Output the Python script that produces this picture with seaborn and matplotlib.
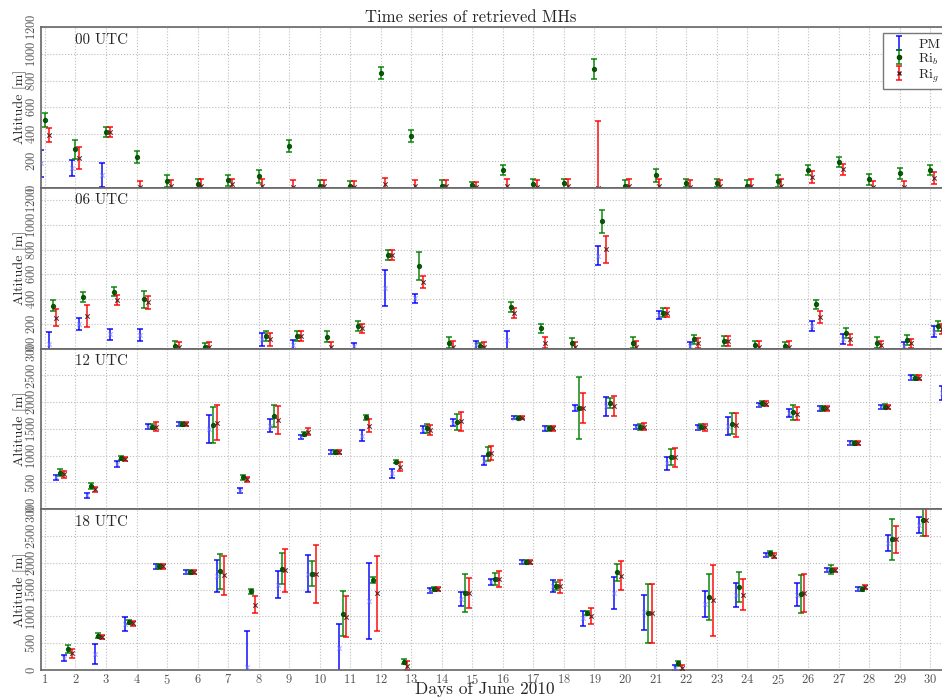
import numpy as np
import pandas as pd
import matplotlib
matplotlib.use("Agg")
import matplotlib.pyplot as plt
import seaborn as sns
from matplotlib.lines import Line2D

N = np.nan
days = list(range(1, 31))
hours = ["00", "06", "12", "18"]
series_names = ["PM", "Ri$_b$", "Ri$_g$"]
day_ticks = list(range(1, 31))

# ---------------- 00 UTC ----------------
pm_00 = [182, 145, 95, N, N, N, N, N, N, N, N, N, N, N, N, N, N, N, N, N, N, N, N, N, N, N, N, N, N, N]
pm_00_err = [100, 60, 90, N, N, N, N, N, N, N, N, N, N, N, N, N, N, N, N, N, N, N, N, N, N, N, N, N, N, N]
rib_00 = [507, 287, 417, 232, 50, 30, 55, 87, 312, 10, 10, 855, 387, 10, 20, 132, 30, 32, 887, 10, 92, 32, 32, 10, 50, 132, 192, 62, 107, 132]
rib_00_err = [53, 72, 35, 44, 45, 35, 42, 48, 42, 45, 40, 47, 45, 45, 22, 39, 35, 35, 72, 50, 47, 30, 30, 50, 45, 39, 38, 42, 42, 39]
rig_00 = [392, 225, 417, 5, 10, 10, 30, 10, 5, 10, 5, 30, 10, 10, 5, 10, 5, 10, 0, 10, 10, 5, 10, 10, 10, 82, 137, 5, 5, 75]
rig_00_err = [52, 82, 35, 45, 47, 52, 35, 52, 50, 47, 45, 45, 47, 45, 37, 52, 52, 52, 495, 52, 57, 52, 45, 52, 52, 44, 40, 45, 45, 44]

# ---------------- 06 UTC ----------------
pm_06 = [40, 195, 114, 108, N, N, N, 73, 32, N, 20, 487, 405, N, 25, 68, N, N, 751, N, 270, 20, N, N, N, 181, 76, N, 20, 135]
pm_06_err = [95, 48, 43, 47, N, N, N, 55, 40, N, 25, 146, 38, N, 35, 72, N, N, 78, N, 35, 30, N, N, N, 43, 43, N, 30, 46]
rib_06 = [346, 419, 460, 397, 22, 14, N, 103, 103, 95, 184, 757, 668, 46, 20, 332, 162, 41, 1027, 46, 289, 73, 62, 27, 20, 357, 127, 46, 68, 184]
rib_06_err = [45, 40, 38, 68, 37, 30, N, 40, 40, 46, 40, 40, 111, 44, 25, 40, 37, 43, 95, 44, 37, 40, 40, 30, 30, 38, 41, 44, 38, 40]
rig_06 = [249, 262, 392, 373, 10, 14, N, 73, 103, 10, 162, 757, 535, 10, 15, 289, 46, 10, 803, 10, 289, 41, 62, 10, 10, 257, 73, 25, 41, 157]
rig_06_err = [70, 89, 38, 54, 45, 35, N, 55, 40, 40, 37, 40, 48, 50, 35, 40, 44, 45, 110, 50, 37, 40, 40, 50, 50, 47, 43, 35, 38, 40]

# ---------------- 12 UTC ----------------
pm_12 = [594, 262, 844, 1544, 1600, 1500, 344, 1562, 1356, 1075, 1375, 669, 1487, 1619, 906, 1712, 1512, 1887, 1919, 1537, 856, 1525, 1556, 1950, 1794, 1881, 1231, 1906, 2456, 2169]
pm_12_err = [53, 50, 50, 47, 37, 268, 44, 125, 38, 37, 103, 85, 68, 62, 85, 31, 43, 50, 181, 40, 115, 43, 172, 40, 78, 44, 41, 44, 41, 137]
rib_12 = [681, 437, 962, 1544, 1600, 1569, 600, 1744, 1400, 1075, 1719, 887, 1512, 1625, 1025, 1712, 1512, 1887, 1981, 1537, 981, 1544, 1600, 1975, 1806, 1881, 1231, 1912, 2456, N]
rib_12_err = [69, 53, 35, 55, 37, 334, 47, 203, 40, 37, 46, 31, 81, 147, 131, 31, 43, 575, 97, 53, 147, 50, 194, 40, 131, 44, 41, 44, 41, N]
rig_12 = [650, 369, 944, 1544, 1600, 1619, 556, 1662, 1450, 1075, 1562, 794, 1481, 1644, 1044, 1712, 1512, 1887, 1919, 1537, 969, 1531, 1569, 1969, 1787, 1881, 1231, 1906, 2456, N]
rig_12_err = [66, 38, 38, 88, 37, 334, 47, 265, 62, 37, 119, 81, 100, 175, 131, 31, 43, 281, 187, 65, 171, 69, 225, 47, 118, 44, 41, 44, 41, N]

# ---------------- 18 UTC ----------------
pm_18 = [219, 294, 862, 1937, 1837, 1762, 60, 1594, 1794, 406, 1294, N, 1481, 1325, 1637, 2012, 1562, 969, 1437, 1075, 44, 1231, 1394, 2144, 1406, 1862, 1519, 2375, 2706, N]
pm_18_err = [56, 184, 125, 47, 37, 297, 670, 247, 347, 450, 712, N, 41, 134, 56, 40, 110, 141, 306, 334, 50, 243, 225, 40, 218, 40, 35, 150, 143, N]
rib_18 = [394, 644, 894, 1937, 1837, 1844, 1469, 1894, 1800, 1050, 1675, 156, 1512, 1437, 1700, 2012, 1569, 1062, 1825, 1062, 125, 1362, 1550, 2175, 1419, 1875, 1519, 2437, 2794, N]
rib_18_err = [78, 47, 37, 47, 37, 328, 44, 281, 237, 422, 53, 47, 35, 350, 110, 40, 78, 41, 162, 550, 50, 422, 272, 47, 353, 84, 35, 390, 297, N]
rig_18 = [312, 612, 875, 1937, 1837, 1769, 1219, 1862, 1794, 994, 1437, 81, 1512, 1437, 1700, 2012, 1562, 1000, 1762, 1062, 44, 1300, 1406, 2137, 1437, 1862, 1544, 2437, 2794, N]
rig_18_err = [87, 40, 47, 47, 37, 365, 160, 397, 547, 385, 700, 85, 40, 282, 153, 40, 116, 150, 275, 550, 50, 662, 290, 40, 360, 40, 35, 259, 297, N]

values = {
    "00": [(pm_00, pm_00_err), (rib_00, rib_00_err), (rig_00, rig_00_err)],
    "06": [(pm_06, pm_06_err), (rib_06, rib_06_err), (rig_06, rig_06_err)],
    "12": [(pm_12, pm_12_err), (rib_12, rib_12_err), (rig_12, rig_12_err)],
    "18": [(pm_18, pm_18_err), (rib_18, rib_18_err), (rig_18, rig_18_err)],
}
ylims = {"00": 1200, "06": 1300, "12": 3000, "18": 3000}
yticks = {"00": [0, 200, 400, 600, 800, 1000, 1200],
          "06": [0, 200, 400, 600, 800, 1000, 1200],
          "12": [0, 500, 1000, 1500, 2000, 2500, 3000],
          "18": [0, 500, 1000, 1500, 2000, 2500, 3000]}

offsets = [-0.125, 0.0, 0.125]
bar_colors = ["#0000ff", "#008000", "#ff0000"]
mk_colors = ["#7777ff", "#004d00", "#4d1a1a"]
mk_shapes = ["x", "o", "x"]
mk_sizes = [10, 9, 10]

rows = []
for h in hours:
    for si, (vals, errs) in enumerate(values[h]):
        for d, v, e in zip(days, vals, errs):
            rows.append({"hour": h, "series": series_names[si], "day": d,
                         "x": d + int(h) / 24.0 + offsets[si], "value": v, "err": e})
df = pd.DataFrame(rows)

sns.set_style("whitegrid")
plt.rcParams["font.family"] = ["cmr10", "DejaVu Serif"]
plt.rcParams["mathtext.fontset"] = "cm"
plt.rcParams["axes.formatter.use_mathtext"] = True
plt.rcParams["axes.unicode_minus"] = False

fig = plt.figure(figsize=(9.42, 6.97), dpi=100)
axes = fig.subplots(4, 1, sharex=True, gridspec_kw=dict(hspace=0))
fig.subplots_adjust(left=0.0435, right=1.02, top=0.9613, bottom=0.0387)

legend_handles = []
for ai, (ax, h) in enumerate(zip(axes, hours)):
    sub = df[df["hour"] == h]
    for si, name in enumerate(series_names):
        s = sub[sub["series"] == name]
        cont = ax.errorbar(s["x"], s["value"], yerr=s["err"], fmt="none",
                           ecolor=bar_colors[si], elinewidth=1.3, capsize=2.3,
                           capthick=1.3, alpha=0.8, zorder=2)
        sns.scatterplot(data=s, x="x", y="value", color=mk_colors[si],
                        marker=mk_shapes[si], s=mk_sizes[si], linewidth=0.8,
                        edgecolor=mk_colors[si] if mk_shapes[si] == "o" else None,
                        alpha=0.9 if si else 0.6, legend=False, ax=ax, zorder=3)
        if ai == 0:
            mk = Line2D([], [], ls="none", marker=mk_shapes[si] if si else None,
                        markersize=3, color=mk_colors[si])
            legend_handles.append((cont, mk))
    ax.set_xlim(0.87, 31)
    ax.set_ylim(0, ylims[h])
    ax.set_yticks(yticks[h])
    ax.set_xticks(day_ticks)
    ax.grid(True, ls=":", color="#bdbdbd", lw=0.8)
    for sp in ax.spines.values():
        sp.set_color("#666666")
        sp.set_linewidth(1.2)
    ax.tick_params(axis="y", labelrotation=90, labelsize=9, labelcolor="#555555",
                   direction="in", length=3, color="#666666", pad=2)
    for lab in ax.get_yticklabels():
        lab.set_va("center")
    ax.tick_params(axis="x", labelsize=9, labelcolor="#555555", direction="in",
                   length=3, color="#666666", pad=2)
    ax.set_ylabel("Altitude [m]", fontsize=10, va="center")
    ax.yaxis.set_label_coords(-0.023, 0.5)
    ax.set_xlabel("")
    ax.text(0.037, 0.92, f"{h} UTC", transform=ax.transAxes, fontsize=10.8,
            ha="left", va="center")

axes[-1].set_xlabel("Days of June 2010", fontsize=12.5, va="center")
axes[-1].xaxis.set_label_coords(0.483, -0.122)

leg = axes[0].legend(legend_handles, series_names, loc="upper left",
                     bbox_to_anchor=(883 / 942, 1 - 33 / 697),
                     bbox_transform=fig.transFigure, fontsize=10,
                     fancybox=False, frameon=True, edgecolor="#777777",
                     framealpha=1, borderaxespad=0.0, handletextpad=0.6,
                     handlelength=1.6, labelspacing=0.05, borderpad=0.35)
leg.get_frame().set_linewidth(1.0)

fig.text(0.5, 1 - 17 / 697, "Time series of retrieved MHs", fontsize=12,
         ha="center", va="center")

fig.savefig("out.png", dpi=100)
